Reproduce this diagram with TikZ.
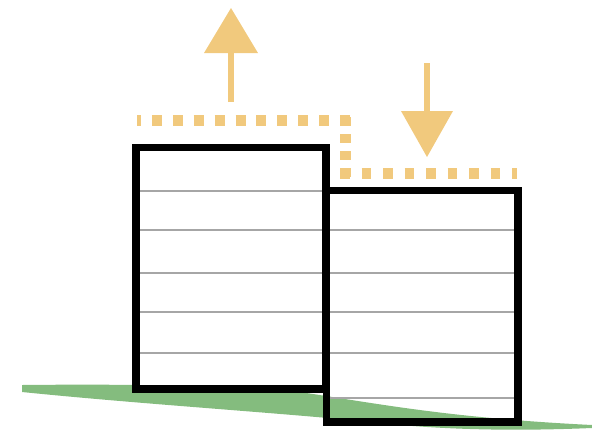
\documentclass[tikz,border=0pt]{standalone}
\definecolor{sand}{HTML}{F1C97D}
\definecolor{grass}{HTML}{84BC7E}
\definecolor{rule}{HTML}{A6A6A6}
\tikzset{
  building/.style={draw=black,line width=7.5pt,line join=miter},
  floorline/.style={draw=rule,line width=2pt},
  grade/.style={draw=sand,line width=11pt},
  shaft/.style={draw=sand,line width=5.8pt},
  head/.style={fill=sand,draw=none},
  ground/.style={fill=grass,draw=none}
}
\begin{document}
\begin{tikzpicture}[x=1pt,y=-1pt]
\useasboundingbox (0,0) rectangle (592,432);
% ground
\path[ground] (22,385) .. controls (120,384) and (220,385) .. (300,392)
  .. controls (380,404) and (450,418) .. (592,425)
  -- (592,428) .. controls (520,431) and (460,430) .. (400,425)
  .. controls (300,414) and (150,405) .. (22,392) -- cycle;
% floor lines left
\foreach \yy in {191,230,273,312,353} \draw[floorline] (136,\yy) -- (326,\yy);
% floor lines right
\foreach \yy in {230,273,312,353,398} \draw[floorline] (326,\yy) -- (518,\yy);
% buildings
\draw[building] (136,147.5) rectangle (326,389);
\draw[building] (326.5,190.5) rectangle (518,422);
% grade line
\draw[grade,dash pattern=on 10pt off 10.9pt,dash phase=6pt] (137,120.5) -- (351,120.5);
\draw[grade,dash pattern=on 9pt off 8pt] (345.5,117) -- (345.5,178);
\draw[grade,dash pattern=on 9.5pt off 12pt] (340,173.5) -- (517,173.5);
% arrows
\coordinate (upbase) at (231,102);
\coordinate (upneck) at (231,53);
\draw[shaft] (upbase) -- (upneck);
\path[head] (204,53) -- (258,53) -- (231,8) -- cycle;
\coordinate (dnbase) at (427,63);
\coordinate (dnneck) at (427,111);
\draw[shaft] (dnbase) -- (dnneck);
\path[head] (401,111) -- (453,111) -- (427,157) -- cycle;
\end{tikzpicture}
\end{document}
